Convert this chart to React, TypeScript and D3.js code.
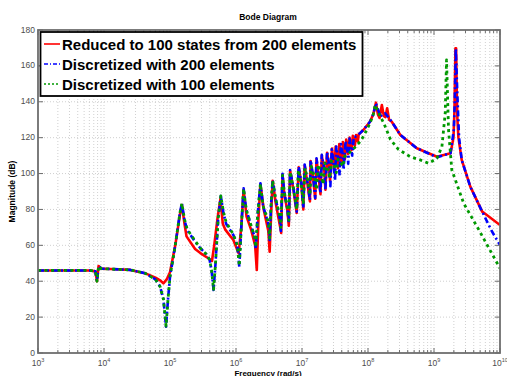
import React from "react";
import * as d3 from "d3";

// [log10(frequency rad/s), magnitude dB]
const reducedPts: [number, number][] = [
  [3.0, 46], [3.79, 46], [3.87, 45.5], [3.894, 40], [3.918, 48.5], [3.96, 47], [4.1, 46.8], [4.4, 46.3],
  [4.62, 44.5], [4.78, 42], [4.85, 40.5], [4.9, 38.8], [4.95, 41], [5.0, 45], [5.08, 60], [5.15, 77],
  [5.18, 82.5], [5.22, 72], [5.25, 65], [5.38, 58], [5.46, 55.7], [5.58, 52.8], [5.636, 51.3], [5.67, 60],
  [5.72, 75], [5.765, 86], [5.8, 72], [5.84, 68.6], [5.96, 63], [6.04, 55.6], [6.08, 70], [6.115, 91],
  [6.16, 76], [6.23, 68.6], [6.29, 60], [6.315, 46.3], [6.34, 75], [6.37, 94], [6.42, 80], [6.49, 68],
  [6.51, 56.5], [6.535, 80], [6.555, 96], [6.6, 84], [6.67, 70], [6.685, 66.9], [6.705, 99.5], [6.73, 89],
  [6.78, 79], [6.8, 71], [6.82, 101.5], [6.87, 91], [6.92, 78], [6.95, 103.5], [6.99, 94], [7.02, 80],
  [7.04, 104.5], [7.08, 95], [7.12, 84.5], [7.13, 107], [7.17, 97], [7.2, 86], [7.22, 108], [7.25, 99],
  [7.28, 88.5], [7.3, 110], [7.34, 101], [7.355, 91], [7.38, 111.5], [7.41, 104], [7.425, 96], [7.455, 114],
  [7.475, 107], [7.49, 101], [7.51, 115], [7.53, 109], [7.545, 103], [7.565, 116.5], [7.585, 111], [7.6, 105],
  [7.62, 117.5], [7.64, 113], [7.65, 108], [7.67, 119], [7.69, 115], [7.7, 111], [7.72, 120], [7.74, 116.5],
  [7.75, 113], [7.77, 121], [7.79, 118], [7.8, 115.5], [7.82, 121.5], [7.835, 119], [7.845, 118],
  [7.86, 122], [7.88, 122.5], [7.93, 124.3], [8.03, 128.9], [8.08, 133], [8.12, 139.5],
  [8.15, 133], [8.175, 131], [8.21, 138.2], [8.24, 132], [8.265, 131.5], [8.29, 136.4], [8.32, 130],
  [8.36, 128.9], [8.49, 121.5], [8.74, 114.1], [9.045, 109.4], [9.25, 111.3], [9.295, 120], [9.31, 135],
  [9.325, 169.8], [9.335, 169.8], [9.345, 145], [9.355, 130], [9.37, 120], [9.42, 107.6], [9.55, 92.7],
  [9.73, 78.8], [9.8, 76.9], [10.0, 71.3],
];

const disc200Pts: [number, number][] = [
  [3.0, 46], [3.79, 46], [3.87, 45.5], [3.894, 40], [3.918, 48.5], [3.96, 47], [4.1, 46.8], [4.4, 46.3],
  [4.62, 44.5], [4.78, 41], [4.85, 37], [4.9, 30], [4.94, 14.7], [4.97, 30], [5.0, 42.5], [5.08, 60],
  [5.15, 78], [5.18, 83.4], [5.22, 74], [5.26, 68.5], [5.38, 62], [5.46, 58.4], [5.55, 55], [5.6, 52],
  [5.63, 46], [5.66, 35.1], [5.69, 50], [5.73, 75], [5.77, 87.5], [5.81, 78], [5.85, 72], [5.96, 65.8],
  [6.02, 60], [6.05, 48.1], [6.08, 70], [6.115, 91.8], [6.155, 80], [6.22, 72], [6.28, 65], [6.3, 58],
  [6.33, 78], [6.37, 94.6], [6.41, 82], [6.49, 72], [6.51, 63], [6.53, 82], [6.555, 96.4], [6.6, 86],
  [6.66, 76], [6.68, 68], [6.705, 99.8], [6.73, 90], [6.78, 80], [6.8, 72.3], [6.82, 102], [6.87, 92],
  [6.92, 78.8], [6.95, 103.9], [6.99, 95], [7.02, 80.7], [7.04, 105], [7.08, 96], [7.12, 85.3], [7.13, 107.6],
  [7.17, 98], [7.2, 86.4], [7.22, 108.5], [7.25, 100], [7.28, 89], [7.3, 110.4], [7.34, 102], [7.355, 90.9],
  [7.38, 112.2], [7.415, 104], [7.43, 93], [7.45, 113.5], [7.48, 106], [7.5, 96], [7.52, 115], [7.55, 108],
  [7.57, 99], [7.59, 116.5], [7.62, 110], [7.63, 102], [7.66, 118], [7.69, 112], [7.7, 105.5], [7.72, 119.5],
  [7.745, 114], [7.76, 110], [7.785, 120.5], [7.81, 120.6], [7.88, 122.5], [7.93, 124.3], [8.03, 128.9],
  [8.08, 133], [8.12, 139.2], [8.19, 131.7], [8.23, 133.5], [8.26, 133.6], [8.36, 128.9], [8.49, 121.5],
  [8.74, 114.1], [9.045, 109.1], [9.17, 110.5], [9.25, 111.3], [9.3, 124.3], [9.315, 140], [9.33, 169.8],
  [9.355, 142.9], [9.38, 120], [9.42, 107.6], [9.55, 92.7], [9.73, 78.8], [9.88, 67.6], [10.0, 60.2],
];

const disc100Pts: [number, number][] = [
  [3.0, 46], [3.79, 46], [3.87, 45.5], [3.894, 40], [3.918, 48.5], [3.96, 47], [4.1, 46.8], [4.4, 46.3],
  [4.62, 44.5], [4.78, 41], [4.85, 37], [4.9, 30], [4.94, 15], [4.97, 30], [5.0, 42.5], [5.08, 60],
  [5.15, 78], [5.18, 83.4], [5.22, 74.5], [5.26, 69], [5.38, 62.5], [5.46, 58.4], [5.55, 55], [5.6, 52],
  [5.63, 46], [5.66, 35.5], [5.69, 50], [5.73, 75], [5.77, 87.5], [5.81, 78.5], [5.85, 73], [5.96, 66],
  [6.02, 60], [6.05, 48.5], [6.08, 70], [6.115, 91.5], [6.155, 80], [6.22, 72], [6.28, 65], [6.3, 59],
  [6.33, 78], [6.37, 94.3], [6.41, 82], [6.49, 73], [6.51, 64], [6.53, 82], [6.555, 96], [6.6, 86],
  [6.66, 77], [6.68, 70], [6.705, 99], [6.73, 90], [6.78, 81], [6.8, 74], [6.82, 101], [6.87, 92],
  [6.92, 80], [6.945, 102], [6.99, 94], [7.02, 83], [7.045, 103], [7.09, 96], [7.12, 88], [7.14, 104],
  [7.19, 98], [7.22, 91], [7.245, 105], [7.29, 100], [7.32, 94], [7.345, 106], [7.39, 102], [7.42, 97.5],
  [7.445, 107], [7.49, 104], [7.52, 100.5], [7.545, 108], [7.59, 106], [7.62, 104], [7.645, 109.5],
  [7.7, 111], [7.8, 114.5], [7.88, 117.8], [7.93, 120.6], [8.03, 128], [8.08, 133], [8.11, 138.2],
  [8.17, 133], [8.24, 128], [8.34, 119], [8.46, 113.5], [8.64, 109.4], [8.79, 107.6], [8.92, 105.7],
  [9.045, 108.5], [9.12, 115], [9.17, 133.6], [9.19, 163.3], [9.22, 124.3], [9.27, 102], [9.45, 83.4],
  [9.68, 68.6], [10.0, 47.2],
];

const seriesNames = [
  "Reduced to 100 states from 200 elements",
  "Discretized with 200 elements",
  "Discretized with 100 elements",
];
const seriesColors = ["#ff0000", "#0000ff", "#009900"];
const yTicks = [0, 20, 40, 60, 80, 100, 120, 140, 160, 180];
const xDecades = [3, 4, 5, 6, 7, 8, 9, 10];

const W = 507;
const H = 376;
const X0 = 38;
const X1 = 500;
const Y0 = 353;
const Y1 = 30;

export default function App() {
  const x = d3.scaleLog().domain([1e3, 1e10]).range([X0, X1]);
  const y = d3.scaleLinear().domain([0, 180]).range([Y0, Y1]);
  const line = d3
    .line<[number, number]>()
    .x((d) => x(Math.pow(10, d[0])))
    .y((d) => y(d[1]));

  const minor: number[] = [];
  for (let e = 3; e < 10; e++) for (let m = 2; m <= 9; m++) minor.push(m * Math.pow(10, e));
  const majors = xDecades.map((e) => Math.pow(10, e));

  const gridColor = "#c4c4c4";
  const axisColor = "#6e6e6e";
  const font = "'Liberation Sans', Arial, Helvetica, sans-serif";

  const styles = [
    { w: 2.6, dash: undefined as string | undefined },
    { w: 2.6, dash: "6,3,2,3" },
    { w: 2.8, dash: "3,3.5" },
  ];
  const data = [reducedPts, disc200Pts, disc100Pts];

  return (
    <svg width={W} height={H} style={{ position: "absolute", left: 0, top: 0, background: "#fff" }} fontFamily={font}>
      <defs>
        <clipPath id="plotclip">
          <rect x={X0} y={Y1} width={X1 - X0} height={Y0 - Y1} />
        </clipPath>
      </defs>
      <rect x={0} y={0} width={W} height={H} fill="#fff" />
      {/* grid */}
      <g stroke={gridColor} strokeWidth={0.8} strokeDasharray="1,2">
        {[...minor, ...majors.slice(1, -1)].map((v, i) => (
          <line key={"gx" + i} x1={x(v)} x2={x(v)} y1={Y1} y2={Y0} />
        ))}
        {yTicks.slice(1, -1).map((v) => (
          <line key={"gy" + v} x1={X0} x2={X1} y1={y(v)} y2={y(v)} />
        ))}
      </g>
      {/* series */}
      <g clipPath="url(#plotclip)" fill="none">
        {data.map((pts, i) => (
          <path
            key={i}
            d={line(pts) || ""}
            stroke={seriesColors[i]}
            strokeWidth={styles[i].w}
            strokeDasharray={styles[i].dash}
            strokeLinejoin="round"
          />
        ))}
      </g>
      {/* ticks */}
      <g stroke={axisColor} strokeWidth={1}>
        {minor.map((v, i) => (
          <g key={"mt" + i}>
            <line x1={x(v)} x2={x(v)} y1={Y0} y2={Y0 - 3} />
            <line x1={x(v)} x2={x(v)} y1={Y1} y2={Y1 + 3} />
          </g>
        ))}
        {majors.map((v, i) => (
          <g key={"Mt" + i}>
            <line x1={x(v)} x2={x(v)} y1={Y0} y2={Y0 - 5} />
            <line x1={x(v)} x2={x(v)} y1={Y1} y2={Y1 + 5} />
          </g>
        ))}
        {yTicks.map((v) => (
          <g key={"yt" + v}>
            <line x1={X0} x2={X0 + 5} y1={y(v)} y2={y(v)} />
            <line x1={X1} x2={X1 - 5} y1={y(v)} y2={y(v)} />
          </g>
        ))}
      </g>
      {/* frame */}
      <rect x={X0} y={Y1} width={X1 - X0} height={Y0 - Y1} fill="none" stroke={axisColor} strokeWidth={1.8} />
      {/* tick labels */}
      <g fill="#4d4d4d" fontSize={8.5}>
        {yTicks.map((v) => (
          <text key={"yl" + v} x={X0 - 3} y={y(v) + 2.5} textAnchor="end">
            {v}
          </text>
        ))}
        {xDecades.map((e) => (
          <text key={"xl" + e} x={x(Math.pow(10, e))} y={365.5} textAnchor="middle">
            10
            <tspan fontSize={5.5} dy={-3.5}>
              {e}
            </tspan>
          </text>
        ))}
      </g>
      {/* titles */}
      <text x={268} y={19.5} textAnchor="middle" fontSize={8.5} fontWeight="bold" fill="#000">
        Bode Diagram
      </text>
      <text x={268} y={375.5} textAnchor="middle" fontSize={8} fontWeight="bold" fill="#000">
        Frequency  (rad/s)
      </text>
      <text
        transform={`translate(15,${(Y0 + Y1) / 2}) rotate(-90)`}
        textAnchor="middle"
        fontSize={8.5}
        fontWeight="bold"
        fill="#000"
      >
        Magnitude (dB)
      </text>
      {/* legend */}
      <g>
        <rect x={40.5} y={32} width={322} height={64} fill="#fff" stroke="#000" strokeWidth={1.8} />
        {seriesNames.map((name, i) => (
          <g key={"lg" + i}>
            <line
              x1={44}
              x2={60}
              y1={44 + i * 20}
              y2={44 + i * 20}
              stroke={seriesColors[i]}
              strokeWidth={1.6}
              strokeDasharray={i === 1 ? "4,2,1,2" : i === 2 ? "2,2" : undefined}
            />
            <text x={62} y={50 + i * 20} fontSize={15} fontWeight="bold" fill="#000">
              {name}
            </text>
          </g>
        ))}
      </g>
    </svg>
  );
}
